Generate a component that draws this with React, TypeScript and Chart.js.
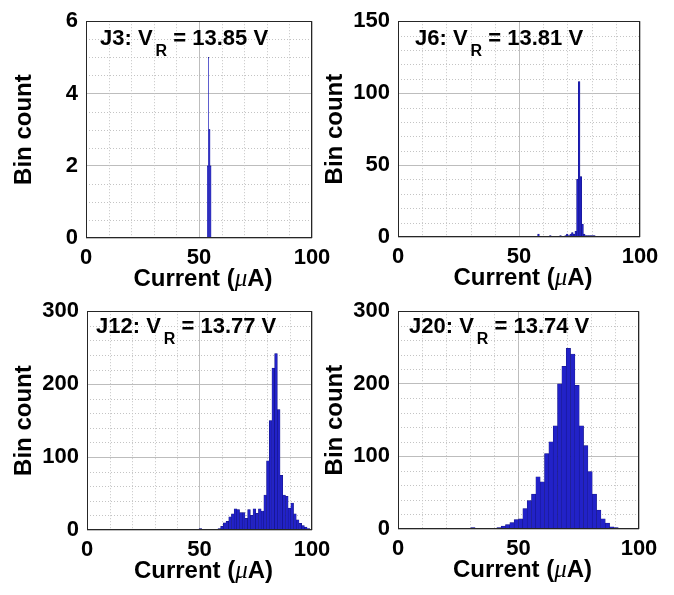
import React, { useEffect, useRef } from 'react';
import { Chart, registerables } from 'chart.js';

Chart.register(...registerables);

const FONT = '"Liberation Sans", Arial, Helvetica, sans-serif';

// ---------------- data ----------------
const panelNames = ['J3', 'J6', 'J12', 'J20'];
const reverseVoltages = ['13.85', '13.81', '13.77', '13.74'];

const xTitle = ['Current (', 'μ', 'A)'];
const yTitle = 'Bin count';

const xMin = 0;
const xMax = 100;
const xMajorStep = 50;
const xMinorStep = 10;

const yMaxes = [6, 150, 300, 300];
const yMajorSteps = [2, 50, 100, 100];
const yMinorSteps = [0.5, 10, 20, 20];

// bin centres (µA) and bin counts
const j3Centers = [53.78, 53.93, 54.08, 54.23, 54.38, 54.53, 54.68, 54.83, 54.98, 55.13, 55.28];
const j3Counts = [2, 2, 2, 5, 3, 3, 3, 3, 2, 2, 2];

const j6Centers = [58.05, 58.75, 59.45, 60.15, 60.85, 61.55, 62.25, 62.95, 63.65, 64.35, 65.05, 65.75,
  66.45, 67.15, 67.85, 68.55, 69.25, 69.95, 70.65, 71.35, 72.05, 72.75, 73.45, 74.15, 74.85, 75.55,
  76.25, 76.95, 77.65, 78.35, 79.05, 79.75, 80.45, 81.15];
const j6Counts = [2, 0, 0, 0, 0, 0, 0, 1, 0, 0, 0, 0, 0, 1, 0, 0, 1, 2, 1, 2, 3, 2, 4, 40, 108, 42,
  9, 2, 1, 1, 1, 1, 1, 1];

const j12Centers = [50.4, 51.6, 52.8, 54.0, 55.2, 56.4, 57.6, 58.8, 60.0, 61.2, 62.4, 63.6, 64.8, 66.0,
  67.2, 68.4, 69.6, 70.8, 72.0, 73.2, 74.4, 75.6, 76.8, 78.0, 79.2, 80.4, 81.6, 82.8, 84.0, 85.2, 86.4,
  87.6, 88.8, 90.0, 91.2, 92.4, 93.6, 94.8, 96.0, 97.2, 98.4, 99.6];
const j12Counts = [2, 1, 0, 1, 1, 0, 1, 2, 5, 10, 12, 18, 22, 29, 28, 24, 24, 16, 28, 20, 29, 23, 29,
  26, 48, 95, 150, 222, 242, 165, 75, 48, 46, 30, 37, 22, 14, 9, 6, 4, 2, 1];

const j20Centers = [31.1, 32.9, 34.7, 36.5, 38.3, 40.1, 41.9, 43.7, 45.5, 47.3, 49.1, 50.9, 52.7, 54.5,
  56.3, 58.1, 59.9, 61.7, 63.5, 65.3, 67.1, 68.9, 70.7, 72.5, 74.3, 76.1, 77.9, 79.7, 81.5, 83.3, 85.1,
  86.9, 88.7, 90.5];
const j20Counts = [2, 0, 0, 1, 1, 1, 2, 4, 6, 9, 13, 14, 28, 39, 48, 72, 65, 104, 120, 142, 200, 224,
  249, 241, 198, 142, 115, 79, 48, 26, 14, 8, 3, 2];

const allCenters = [j3Centers, j6Centers, j12Centers, j20Centers];
const allCounts = [j3Counts, j6Counts, j12Counts, j20Counts];

// ---------------- layout (page pixels) ----------------
const LAYOUT = [
  { left: 0, top: 0, width: 340, height: 300, padTop: 13, padRight: 28, yAxisW: 86, xAxisH: 62, yTitlePad: 10, textDx: 14, textDy: 24 },
  { left: 312, top: 0, width: 362, height: 300, padTop: 13, padRight: 34, yAxisW: 86, xAxisH: 63, yTitlePad: 9, textDx: 17, textDy: 24 },
  { left: 0, top: 290, width: 340, height: 305, padTop: 15, padRight: 28, yAxisW: 87, xAxisH: 65, yTitlePad: 10, textDx: 9, textDy: 22 },
  { left: 312, top: 290, width: 362, height: 305, padTop: 15, padRight: 35, yAxisW: 86, xAxisH: 66, yTitlePad: 9, textDx: 11, textDy: 22 },
];

const BAR_FILL = '#2222c8';
const BAR_EDGE = '#12127a';

const decorPlugin = {
  id: 'decor',
  beforeDatasetsDraw(chart: any, _args: any, opts: any) {
    const { ctx, chartArea: a, scales } = chart;
    const xs = scales.x;
    const ys = scales.y;
    ctx.save();
    ctx.strokeStyle = '#c4c4c4';
    ctx.lineWidth = 1;
    ctx.setLineDash([1, 2]);
    const nx = Math.round((xs.max - xs.min) / opts.xMinor);
    for (let i = 1; i < nx; i++) {
      const v = xs.min + i * opts.xMinor;
      if (Math.abs(v / opts.xMajor - Math.round(v / opts.xMajor)) < 1e-6) continue;
      const px = Math.round(xs.getPixelForValue(v)) + 0.5;
      ctx.beginPath();
      ctx.moveTo(px, a.top);
      ctx.lineTo(px, a.bottom);
      ctx.stroke();
    }
    const ny = Math.round((ys.max - ys.min) / opts.yMinor);
    for (let i = 1; i < ny; i++) {
      const v = ys.min + i * opts.yMinor;
      if (Math.abs(v / opts.yMajor - Math.round(v / opts.yMajor)) < 1e-6) continue;
      const py = Math.round(ys.getPixelForValue(v)) + 0.5;
      ctx.beginPath();
      ctx.moveTo(a.left, py);
      ctx.lineTo(a.right, py);
      ctx.stroke();
    }
    ctx.restore();
  },
  afterDatasetsDraw(chart: any, _args: any, opts: any) {
    const { ctx, chartArea: a } = chart;
    ctx.save();
    // axes box
    ctx.strokeStyle = '#262626';
    ctx.lineWidth = 1;
    ctx.setLineDash([]);
    ctx.strokeRect(Math.round(a.left) + 0.5, Math.round(a.top) + 0.5,
      Math.round(a.right - a.left) - 1, Math.round(a.bottom - a.top) - 1);

    // annotation "Jn: V_R = xx.xx V"
    ctx.fillStyle = '#000';
    ctx.textBaseline = 'alphabetic';
    ctx.textAlign = 'left';
    const big = `bold 22px ${FONT}`;
    const small = `bold 16px ${FONT}`;
    const bx = a.left + opts.textDx;
    const by = a.top + opts.textDy;
    const p1 = `${opts.name}: V`;
    ctx.font = big;
    ctx.fillText(p1, bx, by);
    const w1 = ctx.measureText(p1).width;
    ctx.font = small;
    ctx.fillText('R', bx + w1 + 3, by + 11);
    const w2 = ctx.measureText('R').width;
    ctx.font = big;
    ctx.fillText(` = ${opts.vr} V`, bx + w1 + 3 + w2, by);

    // x axis title with italic mu
    const f1 = `bold 24px ${FONT}`;
    const fMu = `italic 25px "Liberation Serif", "DejaVu Serif", serif`;
    ctx.font = f1;
    const s1 = ctx.measureText(xTitle[0]).width;
    const s3 = ctx.measureText(xTitle[2]).width;
    ctx.font = fMu;
    const s2 = ctx.measureText(xTitle[1]).width;
    const total = s1 + s2 + s3;
    let tx = (a.left + a.right) / 2 + 4 - total / 2;
    const ty = a.bottom + 48;
    ctx.font = f1;
    ctx.fillText(xTitle[0], tx, ty);
    tx += s1;
    ctx.font = fMu;
    ctx.fillText(xTitle[1], tx, ty);
    tx += s2;
    ctx.font = f1;
    ctx.fillText(xTitle[2], tx, ty);
    ctx.restore();
  },
};

function Panel({ idx }: { idx: number }) {
  const ref = useRef<HTMLCanvasElement | null>(null);
  const L = LAYOUT[idx];
  useEffect(() => {
    if (!ref.current) return;
    const centers = allCenters[idx];
    const counts = allCounts[idx];
    const tickFont = { family: FONT, size: 22, weight: 'bold' as const };
    const chart = new Chart(ref.current, {
      type: 'bar',
      data: {
        datasets: [
          {
            data: centers.map((c, i) => ({ x: c, y: counts[i] })),
            backgroundColor: BAR_FILL,
            borderColor: BAR_EDGE,
            borderWidth: 0.5,
            barPercentage: 1,
            categoryPercentage: 1,
          },
        ],
      },
      options: {
        responsive: false,
        animation: false,
        devicePixelRatio: 1,
        layout: { padding: { left: 0, top: L.padTop, right: L.padRight, bottom: 0 } },
        plugins: {
          legend: { display: false },
          tooltip: { enabled: false },
          decor: {
            name: panelNames[idx],
            vr: reverseVoltages[idx],
            xMinor: xMinorStep,
            xMajor: xMajorStep,
            yMinor: yMinorSteps[idx],
            yMajor: yMajorSteps[idx],
            textDx: L.textDx,
            textDy: L.textDy,
          },
        } as any,
        scales: {
          x: {
            type: 'linear',
            min: xMin,
            max: xMax,
            offset: false,
            grid: { color: '#bdbdbd', lineWidth: 1, drawTicks: false, offset: false },
            border: { display: false },
            ticks: { stepSize: xMajorStep, color: '#000', font: tickFont, padding: 7, maxRotation: 0 },
            afterFit: (s: any) => { s.height = L.xAxisH; },
          },
          y: {
            type: 'linear',
            min: 0,
            max: yMaxes[idx],
            grid: { color: '#bdbdbd', lineWidth: 1, drawTicks: false },
            border: { display: false },
            ticks: { stepSize: yMajorSteps[idx], color: '#000', font: tickFont, padding: 8 },
            title: {
              display: true,
              text: yTitle,
              color: '#000',
              font: { family: FONT, size: 24, weight: 'bold' },
              padding: { top: L.yTitlePad, bottom: 0 },
            },
            afterFit: (s: any) => { s.width = L.yAxisW; },
          },
        },
      } as any,
      plugins: [decorPlugin as any],
    });
    return () => chart.destroy();
  }, [idx]);
  return (
    <canvas
      ref={ref}
      width={L.width}
      height={L.height}
      style={{ position: 'absolute', left: L.left, top: L.top, width: L.width, height: L.height }}
    />
  );
}

export default function App() {
  return (
    <div style={{ position: 'fixed', left: 0, top: 0, width: 674, height: 595, background: '#fff', overflow: 'hidden' }}>
      {[0, 1, 2, 3].map((i) => (
        <Panel key={i} idx={i} />
      ))}
    </div>
  );
}
